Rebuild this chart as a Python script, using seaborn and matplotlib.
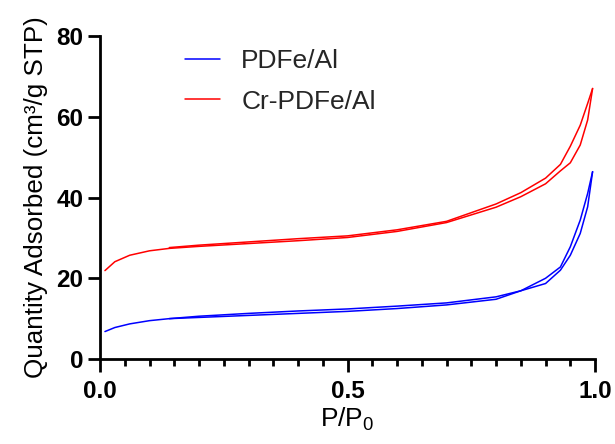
import numpy as np
import pandas as pd
import matplotlib
matplotlib.use("Agg")
import matplotlib.pyplot as plt
import seaborn as sns
from matplotlib.ticker import MultipleLocator

sns.set_theme(style="ticks")
plt.rcParams["font.family"] = ["Liberation Sans", "DejaVu Sans"]
plt.rcParams["mathtext.fontset"] = "custom"
plt.rcParams["mathtext.rm"] = "Liberation Sans"
plt.rcParams["mathtext.it"] = "Liberation Sans"

samples = ["PDFe/Al", "Cr-PDFe/Al"]
colors = ["#0000ff", "#ff0000"]

# Adsorption branch (increasing P/P0)
p_ads = [0.01, 0.03, 0.06, 0.10, 0.14, 0.20, 0.30, 0.40, 0.50, 0.60,
         0.70, 0.80, 0.85, 0.90, 0.93, 0.95, 0.97, 0.985, 0.995]
pdfe_ads = [6.8, 7.8, 8.7, 9.5, 10.0, 10.6, 11.3, 11.9, 12.4, 13.1,
            13.9, 15.4, 16.9, 18.7, 22.0, 25.7, 31.1, 37.7, 46.4]
cr_ads = [21.9, 24.1, 25.7, 26.8, 27.4, 27.9, 28.6, 29.3, 30.1, 31.6,
          33.8, 37.6, 40.2, 43.4, 46.6, 48.6, 53.0, 59.2, 67.0]

# Desorption branch (decreasing P/P0)
p_des = [0.995, 0.985, 0.97, 0.95, 0.93, 0.90, 0.85, 0.80, 0.70, 0.60,
         0.50, 0.40, 0.30, 0.20, 0.14]
pdfe_des = [46.4, 41.0, 34.4, 27.8, 22.8, 20.0, 16.9, 14.8, 13.4, 12.5,
            11.8, 11.3, 10.8, 10.3, 10.0]
cr_des = [67.0, 63.3, 57.9, 52.7, 48.2, 44.8, 41.2, 38.4, 34.1, 32.0,
          30.5, 29.8, 29.0, 28.2, 27.6]

frames = []
for name, ads, des in [(samples[0], pdfe_ads, pdfe_des),
                       (samples[1], cr_ads, cr_des)]:
    frames.append(pd.DataFrame({"sample": name, "branch": name + " ads",
                                "p": p_ads, "q": ads}))
    frames.append(pd.DataFrame({"sample": name, "branch": name + " des",
                                "p": p_des, "q": des}))
df = pd.concat(frames, ignore_index=True)

fig = plt.figure(figsize=(6.15, 4.44), dpi=100)
ax = fig.add_axes([0.1626, 0.1914, 0.805, 0.7275])

sns.lineplot(data=df, x="p", y="q", hue="sample", units="branch",
             estimator=None, sort=False, palette=colors, hue_order=samples,
             linewidth=1.1, ax=ax)

ax.set_xlim(0, 1.0)
ax.set_ylim(0, 80)
ax.set_xticks([0.0, 0.5, 1.0])
ax.set_xticklabels(["0.0", "0.5", "1.0"])
ax.xaxis.set_minor_locator(MultipleLocator(0.05))
ax.set_yticks([0, 20, 40, 60, 80])

for side in ["top", "right"]:
    ax.spines[side].set_visible(False)
for side in ["left", "bottom"]:
    ax.spines[side].set_linewidth(2.0)
    ax.spines[side].set_color("black")

ax.tick_params(axis="both", which="major", length=9, width=2.0,
               labelsize=17.5, colors="black")
ax.tick_params(axis="y", which="major", pad=3)
ax.tick_params(axis="x", which="major", pad=6)
ax.tick_params(axis="x", which="minor", length=5, width=2.0, colors="black")
for lab in ax.get_xticklabels() + ax.get_yticklabels():
    lab.set_fontweight("bold")

ax.set_xlabel("P/P$_0$", fontsize=19, color="black", labelpad=2)
ax.set_ylabel("Quantity Adsorbed (cm³/g STP)", fontsize=18.7, color="black",
              labelpad=6)

leg = ax.legend(loc="upper left", bbox_to_anchor=(0.1717, 0.96),
                frameon=False, fontsize=19, handlelength=1.33,
                handletextpad=0.8, labelspacing=0.63, borderpad=0,
                borderaxespad=0)
for line in leg.get_lines():
    line.set_linewidth(1.1)

fig.savefig("out.png", dpi=100)
